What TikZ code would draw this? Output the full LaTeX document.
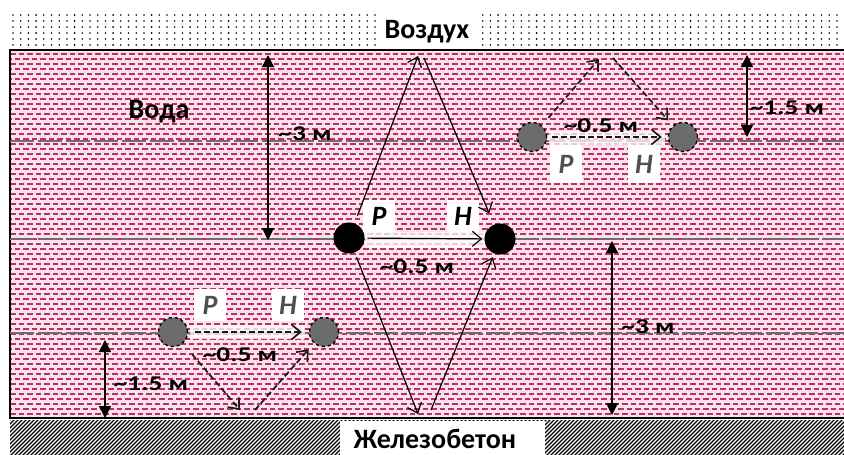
\documentclass[tikz,border=0pt]{standalone}
\usepackage{fontspec}
\setmainfont{Carlito}
\newfontfamily\widefont[FakeStretch=1.3]{Carlito}
\usetikzlibrary{arrows.meta}
\definecolor{wbg}{RGB}{250,226,236}
\definecolor{wdash}{RGB}{188,46,100}
\definecolor{gline}{RGB}{110,110,110}
\definecolor{gdot}{RGB}{108,108,108}
\definecolor{glab}{RGB}{80,80,80}
\definecolor{dgray}{RGB}{25,25,25}
\begin{document}
\begin{tikzpicture}[x=1pt,y=-1pt,
  big/.style={font=\bfseries\fontsize{28}{28}\selectfont, inner sep=0pt},
  lbl/.style={font=\widefont\bfseries\fontsize{21}{21}\selectfont, inner sep=0pt},
  phl/.style={font=\bfseries\itshape\fontsize{28}{28}\selectfont, fill=white, inner sep=0pt, minimum width=32pt, minimum height=32pt},
  bigdot/.style={circle, fill=black, minimum size=31pt, inner sep=0pt},
  grdot/.style={circle, fill=gdot, draw=black, dashed, line width=1.4pt, minimum size=29pt, inner sep=0pt},
  ray/.style={line width=1.2pt, -{Straight Barb[length=9pt,width=15pt]}},
  dray/.style={ray, line width=1.7pt, dash pattern=on 6pt off 3pt, draw=dgray},
  dimarr/.style={line width=1.3pt, {Triangle[length=12pt,width=12pt]}-{Triangle[length=12pt,width=12pt]}},
  strip/.style={fill=white, opacity=0.75}
]
\useasboundingbox (0,0) rectangle (844,455);
\fill[white] (0,0) rectangle (844,455);
% air
\foreach \x in {13,20.7,...,844} \foreach \y in {15,21,...,46} \fill (\x,\y) circle (0.9pt);
% water
\fill[wbg] (10,50) rectangle (844,418);
\begin{scope}
\clip (10,52) rectangle (844,417);
\foreach \i in {0,...,72} {
  \pgfmathsetmacro\yy{54+5*\i}
  \pgfmathsetmacro\ph{mod(\i,2)*4}
  \draw[wdash, line width=1.8pt, dash pattern=on 5.5pt off 3pt, dash phase=\ph pt] (10,\yy) -- (844,\yy);
}
\end{scope}
% concrete
\begin{scope}
\clip (10,420) rectangle (844,455);
\foreach \x in {-40,-36,...,844} \draw[line width=1.3pt] (\x,458) -- ++(40,-40);
\end{scope}
\draw[line width=2.5pt] (844,50) -- (10,50) -- (10,418) -- (844,418);
% level lines
\foreach \y in {141,239,333}
  \draw[gline, line width=1.3pt, dash pattern=on 24pt off 4pt] (10,\y) -- (844,\y);
% light strips behind the horizontal arrows
\fill[strip] (365,232) rectangle (485,248);
\fill[strip] (549,131) rectangle (665,145);
\fill[strip] (190,325) rectangle (305,339);
% titles
\fill[white] (376,12) rectangle (481,48);
\node[big, anchor=base] (air) at (427,38) {Воздух};
\fill[white] (340,421) rectangle (545,455);
\node[big, anchor=base] (conc) at (435,448) {Железобетон};
\node[big, anchor=base] (water) at (159,118) {Вода};
% central pair
\node[bigdot] (P1) at (349,238) {};
\node[bigdot] (H1) at (500,239) {};
\node[phl] (P1l) at (379,216) {P};
\node[phl] (H1l) at (463,216) {H};
\draw[ray, shorten <=3pt, shorten >=2pt] (P1) -- (H1);
\node[lbl, anchor=base] (d05a) at (417,273) {\textasciitilde0.5 м};
\coordinate (s1) at (418,56);
\coordinate (s2) at (424,58);
\coordinate (b1) at (418,414);
\coordinate (b2) at (431,410);
\draw[ray, shorten <=8pt] (P1) -- (s1);
\draw[ray, shorten >=12pt] (s2) -- (H1);
\draw[ray, shorten <=5pt] (P1) -- (b1);
\draw[ray, shorten >=4pt] (b2) -- (H1);
% upper-right pair
\node[grdot] (P2) at (532,137) {};
\node[grdot] (H2) at (683,137) {};
\node[phl, text=glab, minimum height=38pt] (P2l) at (566,164) {P};
\node[phl, text=glab, minimum height=38pt] (H2l) at (644,164) {H};
\draw[dray, shorten <=5pt, shorten >=6pt] (P2) -- (H2);
\node[lbl, anchor=base] (d05b) at (601,132) {\textasciitilde0.5 м};
\coordinate (s3) at (599,59);
\coordinate (s4) at (613,58);
\draw[dray, shorten <=10pt] (P2) -- (s3);
\draw[dray, shorten >=7pt] (s4) -- (H2);
% lower-left pair
\node[grdot] (P3) at (173,332) {};
\node[grdot] (H3) at (324,332) {};
\node[phl, text=glab] (P3l) at (210,305) {P};
\node[phl, text=glab] (H3l) at (288,305) {H};
\draw[dray, shorten <=7pt, shorten >=7pt] (P3) -- (H3);
\node[lbl, anchor=base] (d05c) at (240,361) {\textasciitilde0.5 м};
\coordinate (b3) at (240,410);
\coordinate (b4) at (255,410);
\draw[dray, shorten <=14pt] (P3) -- (b3);
\draw[dray, shorten >=8pt] (b4) -- (H3);
% dimensions
\coordinate (u1) at (268,55); \coordinate (u2) at (268,240);
\draw[dimarr] (u1) -- (u2);
\node[lbl, anchor=base] (d3a) at (305,140) {\textasciitilde3 м};
\coordinate (r1) at (612,241); \coordinate (r2) at (612,415);
\draw[dimarr] (r1) -- (r2);
\node[lbl, anchor=base] (d3b) at (648,333) {\textasciitilde3 м};
\coordinate (q1) at (747,55); \coordinate (q2) at (747,137);
\draw[dimarr] (q1) -- (q2);
\node[lbl, anchor=base] (d15a) at (787,114) {\textasciitilde1.5 м};
\coordinate (l1) at (105,340); \coordinate (l2) at (105,418);
\draw[dimarr] (l1) -- (l2);
\node[lbl, anchor=base] (d15b) at (151,390) {\textasciitilde1.5 м};
\end{tikzpicture}
\end{document}
